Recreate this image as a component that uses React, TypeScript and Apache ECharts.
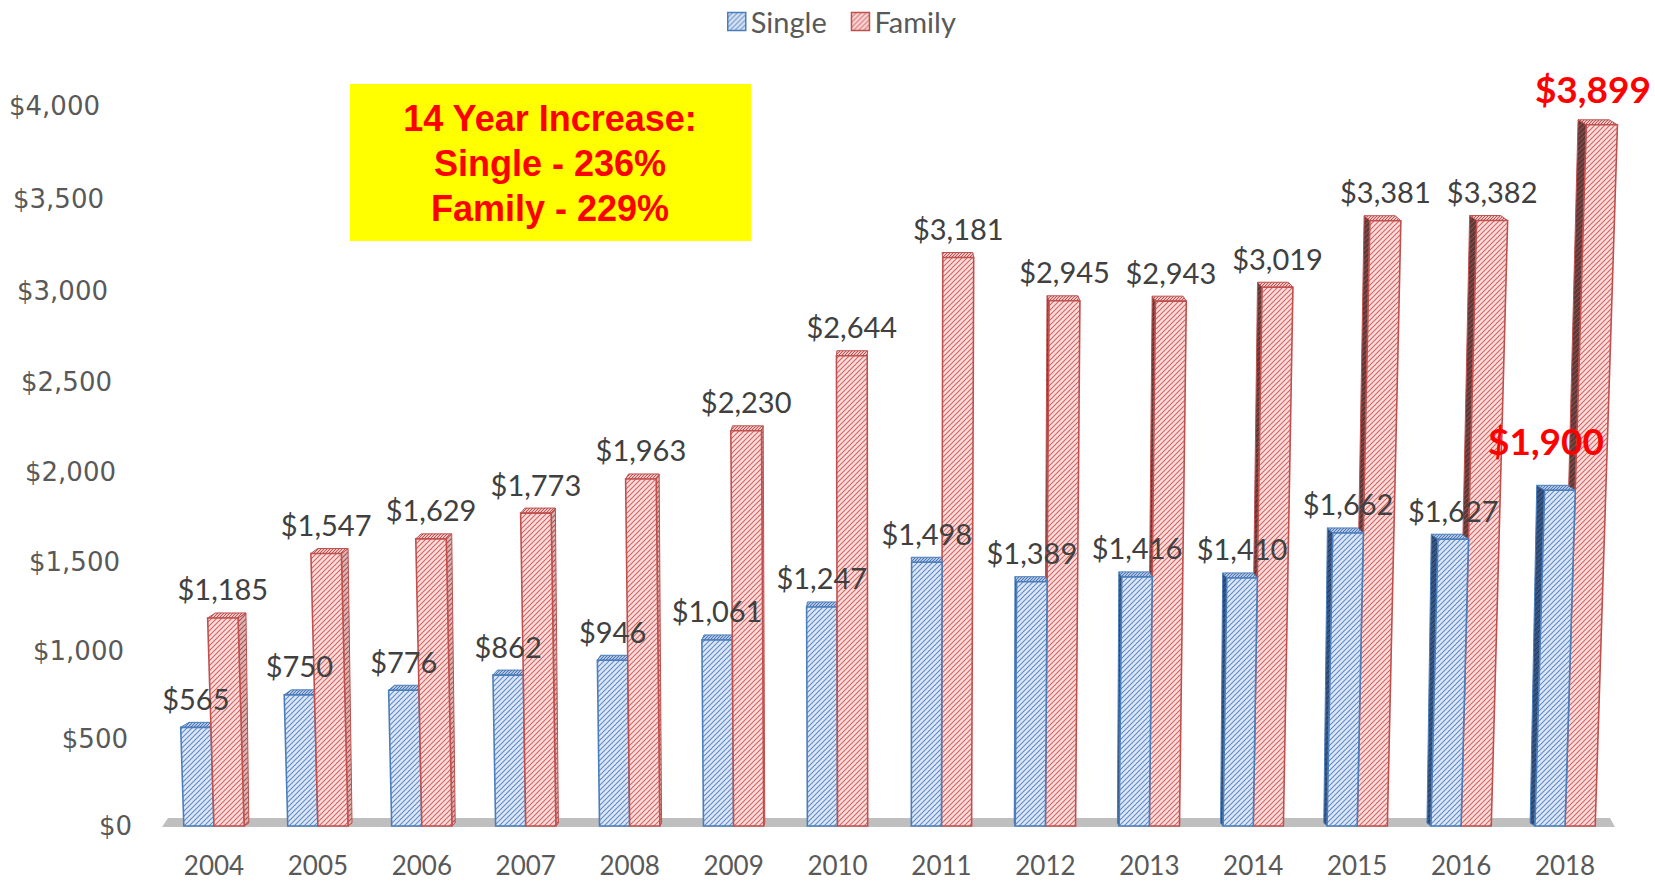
import React, { useEffect, useRef } from 'react';
import * as echarts from 'echarts';

const years = ['2004', '2005', '2006', '2007', '2008', '2009', '2010', '2011', '2012', '2013', '2014', '2015', '2016', '2018'];
const singleValues = [565, 750, 776, 862, 946, 1061, 1247, 1498, 1389, 1416, 1410, 1662, 1627, 1900];
const familyValues = [1185, 1547, 1629, 1773, 1963, 2230, 2644, 3181, 2945, 2943, 3019, 3381, 3382, 3899];
const yTicks = [0, 500, 1000, 1500, 2000, 2500, 3000, 3500, 4000];
const highlightIndex = 13;
const seriesNames = ['Single', 'Family'];
const boxLines = ['14 Year Increase:', 'Single - 236%', 'Family - 229%'];

const Y_MAX = 4000;
const GRID = { left: 162, right: 38, top: 106, bottom: 55 };
const LEAN = 4.5e-5;
const DEPTH_K = 0.012;
const DEPTH_DY = -5;
const WARP_B = 0.035; // perspective: upper part of the value axis slightly stretched

function warpFrac(u: number) {
  return (1 - WARP_B) * u + WARP_B * u * u;
}

function hatch(bg: string, line: string, size = 5, lw = 1.1) {
  const s = size;
  const svg = `<svg xmlns="http://www.w3.org/2000/svg" width="${s}" height="${s}"><rect width="${s}" height="${s}" fill="${bg}"/><path d="M-1,1L1,-1M0,${s}L${s},0M${s - 1},${s + 1}L${s + 1},${s - 1}" stroke="${line}" stroke-width="${lw}"/></svg>`;
  return {
    image: 'data:image/svg+xml;charset=utf-8,' + encodeURIComponent(svg),
    repeat: 'repeat',
    imageWidth: s,
    imageHeight: s,
  };
}

const STYLES: Record<string, any> = {
  Single: {
    front: hatch('#dde7f5', '#5f8bc9'),
    top: hatch('#aec3e2', '#4f76b0', 3, 1),
    sideLight: hatch('#9fb6d8', '#4f76b0'),
    sideDark: hatch('#3a5886', '#223a60'),
    border: '#4a7ebb',
  },
  Family: {
    front: hatch('#fadddc', '#d46462'),
    top: hatch('#ecc3c2', '#b95553', 3, 1),
    sideLight: hatch('#dcb7b6', '#a9504e'),
    sideDark: hatch('#553a3a', '#9a4644'),
    border: '#c0504d',
  },
};

function fmt(v: number) {
  return '$' + v.toLocaleString('en-US');
}

function makeRender(name: string) {
  const st = STYLES[name];
  const side = name === 'Single' ? -1 : 1;
  return (params: any, api: any) => {
    const idx = api.value(0);
    const v = api.value(1);
    const cs = params.coordSys;
    const vx = cs.x + cs.width / 2;
    const base = api.coord([idx, 0]);
    const top = api.coord([idx, v]);
    const axisTop = api.coord([idx, Y_MAX])[1];
    const band = api.size([1, 0])[0];
    const w = band * 0.29;
    const xl = side < 0 ? base[0] - w : base[0];
    const xr = xl + w;
    const yb = base[1];
    const hh = yb - axisTop;
    const yt = yb - hh * warpFrac((yb - top[1]) / hh);
    const P = (x: number, y: number) => [vx + (x - vx) * (1 + LEAN * (yb - y)), y];
    const bl = P(xl, yb), br = P(xr, yb), tr = P(xr, yt), tl = P(xl, yt);
    const bc = (xl + xr) / 2;
    const dx = (vx - bc) * DEPTH_K;
    const leftHalf = bc < vx;
    const z = (name === 'Family') === leftHalf ? 3 : 1;
    const add = (p: number[]) => [p[0] + dx, p[1] + DEPTH_DY];
    const children: any[] = [];
    if (Math.abs(dx) > 1.5) {
      const pts = dx > 0
        ? [br, tr, add(tr), [br[0] + dx * 0.6, br[1] - 3]]
        : [bl, tl, add(tl), [bl[0] + dx * 0.6, bl[1] - 3]];
      children.push({
        type: 'polygon', z2: z,
        shape: { points: pts },
        style: { fill: dx > 0 ? st.sideLight : st.sideDark, stroke: st.border, lineWidth: 1 },
      });
    }
    children.push({
      type: 'polygon', z2: z,
      shape: { points: [tl, tr, add(tr), add(tl)] },
      style: { fill: st.top, stroke: st.border, lineWidth: 1 },
    });
    children.push({
      type: 'polygon', z2: z,
      shape: { points: [bl, br, tr, tl] },
      style: { fill: st.front, stroke: st.border, lineWidth: 1.6 },
    });
    const tc = P(bc, yt);
    const hl = idx === highlightIndex;
    const off = hl ? (name === 'Single' ? [-14, -50] : [-9, -36]) : [0, -29];
    children.push({
      type: 'text', z2: 10,
      x: tc[0] + off[0], y: yt + off[1],
      style: {
        text: fmt(v),
        align: 'center', verticalAlign: 'middle',
        fontFamily: 'Lato',
        fontSize: hl ? 37 : 29,
        fontWeight: hl ? 'bold' : 'normal',
        fill: hl ? '#ff0000' : '#404040',
      },
    });
    return { type: 'group', children };
  };
}

export default function App() {
  const ref = useRef<HTMLDivElement>(null);
  useEffect(() => {
    if (!ref.current) return;
    const chart = echarts.init(ref.current, null, { renderer: 'svg' });
    const W = 1655, H = 881;
    const plotH = H - GRID.top - GRID.bottom;
    const rich: Record<string, any> = {};
    yTicks.forEach((t, k) => {
      const u = t / Y_MAX;
      const shift = plotH * (u - warpFrac(u));
      rich['l' + k] = {
        fontFamily: 'DejaVu Sans', fontSize: 26, color: '#595959',
        padding: [shift * 2, (32 * t) / Y_MAX, 0, 0],
      };
    });
    const floorY = H - GRID.bottom;
    const floorL = GRID.left, floorR = W - GRID.right;
    const option: any = {
      animation: false,
      backgroundColor: '#ffffff',
      legend: {
        left: 722, top: 2, itemWidth: 18, itemHeight: 18, itemGap: 24,
        textStyle: { fontFamily: 'Lato', fontSize: 29, color: '#595959' },
        data: seriesNames.map((n) => ({
          name: n, icon: 'rect',
          itemStyle: { color: STYLES[n].front, borderColor: STYLES[n].border, borderWidth: 1.5 },
        })),
      },
      grid: { left: GRID.left, right: GRID.right, top: GRID.top, bottom: GRID.bottom },
      xAxis: {
        type: 'category', data: years,
        axisLine: { show: false }, axisTick: { show: false },
        axisLabel: { margin: 25, lineHeight: 28, fontFamily: 'Lato', fontSize: 26, color: '#595959' },
      },
      yAxis: {
        type: 'value', min: 0, max: Y_MAX, interval: 500,
        splitLine: { show: false }, axisLine: { show: false }, axisTick: { show: false },
        axisLabel: {
          margin: 30,
          formatter: (v: number) => `{l${yTicks.indexOf(v)}|${fmt(v)}}`,
          rich,
        },
      },
      graphic: [
        {
          type: 'polygon', z: 0,
          shape: { points: [[floorL, floorY + 1], [floorL + 6, floorY - 8], [floorR - 7, floorY - 8], [floorR - 2, floorY + 1]] },
          style: { fill: '#bfbfbf' },
        },
        {
          type: 'rect', z: 5,
          shape: { x: 350, y: 84, width: 401, height: 157 },
          style: { fill: '#ffff00' },
        },
        ...boxLines.map((t, i) => ({
          type: 'text', z: 6,
          x: 550, y: 118 + i * 45,
          style: {
            text: t, align: 'center', verticalAlign: 'middle',
            fontFamily: 'Liberation Sans', fontWeight: 'bold', fontSize: 36, fill: '#ff0000',
          },
        })),
      ],
      series: [
        {
          name: 'Single', type: 'custom',
          itemStyle: { color: STYLES.Single.border },
          renderItem: makeRender('Single'),
          encode: { x: 0, y: 1 },
          data: singleValues.map((v, i) => [i, v]),
        },
        {
          name: 'Family', type: 'custom',
          itemStyle: { color: STYLES.Family.border },
          renderItem: makeRender('Family'),
          encode: { x: 0, y: 1 },
          data: familyValues.map((v, i) => [i, v]),
        },
      ],
    };
    chart.setOption(option);
    return () => chart.dispose();
  }, []);
  return <div ref={ref} style={{ position: 'fixed', left: 0, top: 0, width: 1655, height: 881 }} />;
}
